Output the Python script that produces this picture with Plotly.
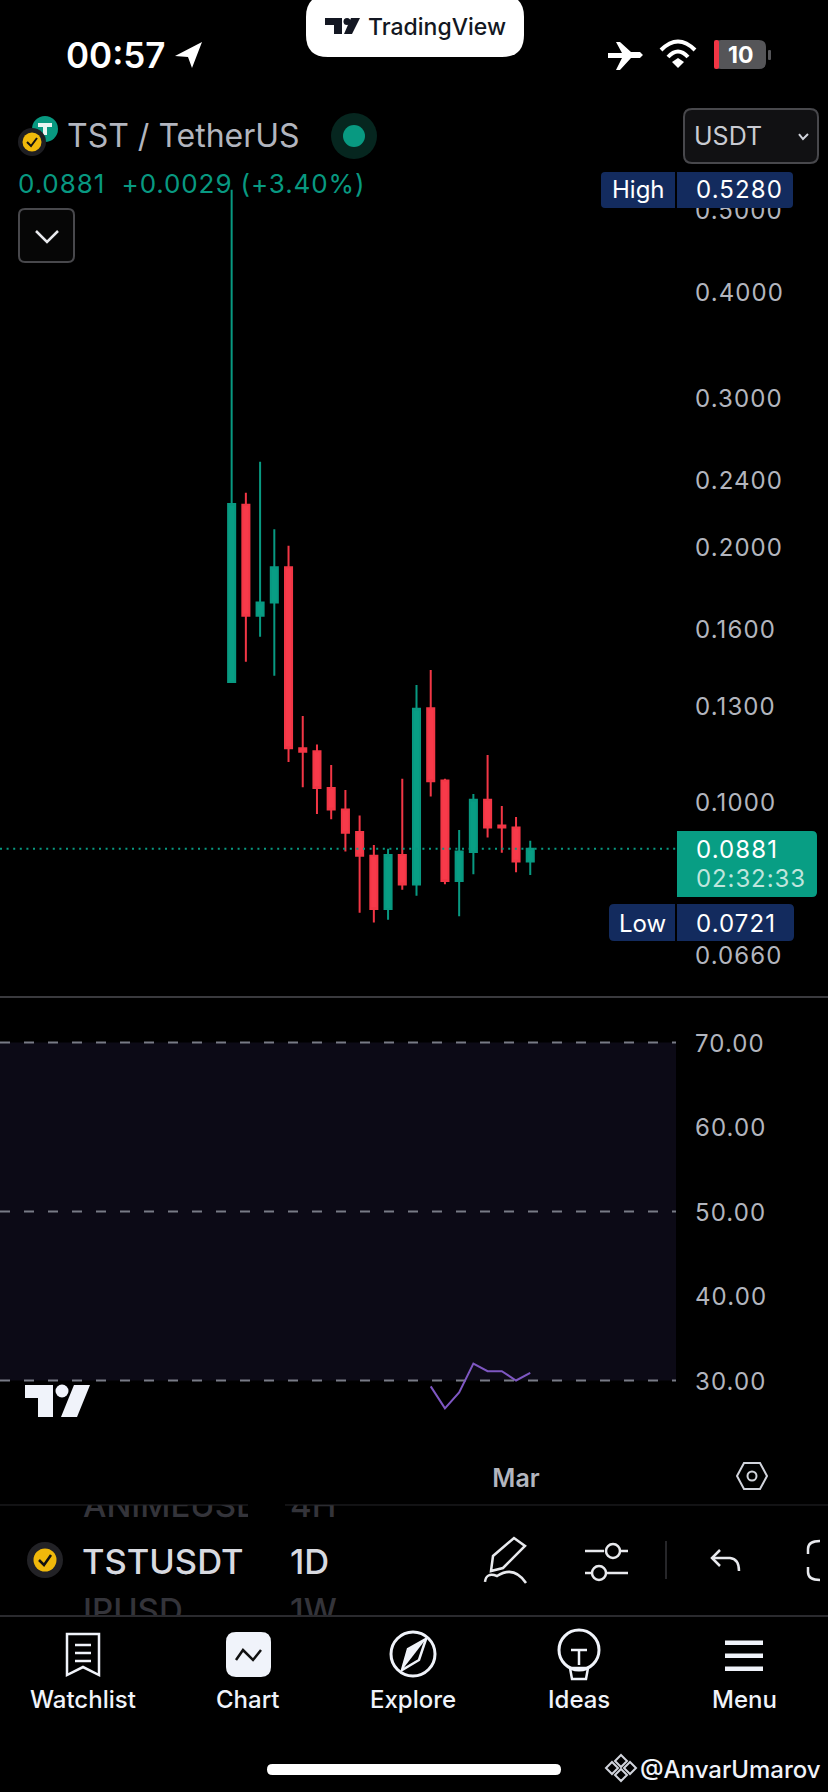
import plotly.graph_objects as go

W, H = 828, 1792
GREEN = "#089981"
RED = "#F23645"
NAVY = "#132B5E"
GREY = "#B2B5BE"
PANE_R = 676

dates = ["2025-02-09", "2025-02-10", "2025-02-11", "2025-02-12", "2025-02-13", "2025-02-14",
         "2025-02-15", "2025-02-16", "2025-02-17", "2025-02-18", "2025-02-19", "2025-02-20",
         "2025-02-21", "2025-02-22", "2025-02-23", "2025-02-24", "2025-02-25", "2025-02-26",
         "2025-02-27", "2025-02-28", "2025-03-01", "2025-03-02"]
opens = [.1386, .2243, .1659, .1720, .1893, .1157, .1148, .1039, .0980, .0922, .0864,
         .0748, .0866, .0799, .1290, .1060, .0807, .0873, .1006, .0938, .0933, .0851]
highs = [.5280, .2317, .2521, .2098, .2007, .1263, .1169, .1106, .1033, .0964, .0890,
         .0881, .1065, .1374, .1431, .1065, .0927, .1022, .1136, .0989, .0960, .0900]
lows = [.1386, .1464, .1567, .1409, .1115, .1041, .0968, .0954, .0874, .0740, .0721,
        .0726, .0788, .0775, .1015, .0800, .0733, .0822, .0908, .0871, .0826, .0820]
closes = [.2248, .1659, .1720, .1893, .1157, .1146, .1039, .0980, .0920, .0864, .0748,
          .0866, .0799, .1288, .1058, .0807, .0874, .1006, .0933, .0933, .0851, .0881]
last_price = 0.0881

price_ticks = [0.066, 0.1, 0.13, 0.16, 0.2, 0.24, 0.3, 0.4, 0.5]
price_labels = ["0.0660", "0.1000", "0.1300", "0.1600", "0.2000", "0.2400", "0.3000", "0.4000", "0.5000"]

rsi_dates = ["2025-02-23", "2025-02-24", "2025-02-25", "2025-02-26",
             "2025-02-27", "2025-02-28", "2025-03-01", "2025-03-02"]
rsi_values = [29.3, 26.7, 28.6, 32.0, 31.1, 31.1, 30.0, 30.9]
rsi_ticks = [30, 40, 50, 60, 70]
rsi_labels = ["30.00", "40.00", "50.00", "60.00", "70.00"]
rsi_levels = [30, 50, 70]

month_ticks = ["2025-03-01"]
month_labels = ["Mar"]


def fx(x):
    return x / W


def fy(y):
    return 1 - y / H


shapes = []
annotations = []


def path(cmds, fill=None, line=None, lw=0, layer="above"):
    parts = []
    for c in cmds:
        op = c[0]
        nums = c[1:]
        seg = op
        for i in range(0, len(nums), 2):
            seg += f"{fx(nums[i]):.5f},{fy(nums[i + 1]):.5f} "
        parts.append(seg)
    shapes.append(dict(type="path", xref="paper", yref="paper", path="".join(parts), layer=layer,
                       fillcolor=fill if fill else "rgba(0,0,0,0)",
                       line=dict(color=line if line else "rgba(0,0,0,0)", width=lw)))


def rrect(x0, y0, x1, y1, r=0, fill=None, line=None, lw=0, tl=True, tr=True, br=True, bl=True):
    a, b, c, d = r if tl else 0, r if tr else 0, r if br else 0, r if bl else 0
    path([("M", x0 + a, y0), ("L", x1 - b, y0), ("Q", x1, y0, x1, y0 + b), ("L", x1, y1 - c),
          ("Q", x1, y1, x1 - c, y1), ("L", x0 + d, y1), ("Q", x0, y1, x0, y1 - d),
          ("L", x0, y0 + a), ("Q", x0, y0, x0 + a, y0), ("Z",)], fill, line, lw)


def circle(cx, cy, r, fill=None, line=None, lw=0):
    shapes.append(dict(type="circle", xref="paper", yref="paper", layer="above",
                       x0=fx(cx - r), x1=fx(cx + r), y0=fy(cy + r), y1=fy(cy - r),
                       fillcolor=fill if fill else "rgba(0,0,0,0)",
                       line=dict(color=line if line else "rgba(0,0,0,0)", width=lw)))


def poly(pts, fill=None, line=None, lw=0, close=True):
    cmds = [("M", *pts[0])] + [("L", *p) for p in pts[1:]]
    if close:
        cmds.append(("Z",))
    path(cmds, fill, line, lw)


def text(x, y, s, size, color="#FFFFFF", anchor="left", family="Inter", weight=400, ls=0):
    if ls:
        s = f'<span style="letter-spacing:{ls}px">{s}</span>'
    annotations.append(dict(x=fx(x), y=fy(y), xref="paper", yref="paper", text=s, showarrow=False,
                            xanchor=anchor, yanchor="middle", borderpad=0,
                            font=dict(size=size, color=color, family=family, weight=weight)))


fig = go.Figure()
fig.add_trace(go.Candlestick(
    x=dates, open=opens, high=highs, low=lows, close=closes, xaxis="x", yaxis="y",
    increasing=dict(line=dict(color=GREEN, width=2), fillcolor="#089E84"),
    decreasing=dict(line=dict(color=RED, width=2), fillcolor="#F73A4A"),
    whiskerwidth=0, showlegend=False, hoverinfo="skip"))
fig.add_trace(go.Scatter(x=rsi_dates, y=rsi_values, mode="lines", xaxis="x2", yaxis="y2",
                         line=dict(color="#7E57C2", width=2), showlegend=False, hoverinfo="skip"))

# Hidden rows of the symbol picker, clipped by their own little subplot
fig.add_trace(go.Scatter(x=[83, 290], y=[1509, 1509], mode="text", text=["ANIMEUSDT", "4H"],
                         textposition="middle right", xaxis="x3", yaxis="y3", cliponaxis=True,
                         textfont=dict(size=33, color="#34343A", family="Inter", weight=500),
                         showlegend=False, hoverinfo="skip"))
fig.add_trace(go.Scatter(x=[83, 290], y=[1614, 1614], mode="text", text=["IPUSD", "1W"],
                         textposition="middle right", xaxis="x3", yaxis="y3", cliponaxis=True,
                         textfont=dict(size=33, color="#34343A", family="Inter", weight=500),
                         showlegend=False, hoverinfo="skip"))

# RSI band and levels
shapes.append(dict(type="rect", xref="paper", yref="y2", x0=0, x1=fx(PANE_R), y0=rsi_levels[0], y1=rsi_levels[2],
                   fillcolor="#0C0A16", line=dict(width=0), layer="below"))
for lvl in rsi_levels:
    shapes.append(dict(type="line", xref="paper", yref="y2", x0=0, x1=fx(PANE_R), y0=lvl, y1=lvl, layer="below",
                       line=dict(color="#787B86", width=2, dash="10px,14px")))
# Last-price line
shapes.append(dict(type="line", xref="paper", yref="y", x0=0, x1=fx(PANE_R), y0=last_price, y1=last_price,
                   layer="above", line=dict(color=GREEN, width=2, dash="2px,4.6px")))

# Pane separator
path([("M", 0, 997), ("L", W, 997)], None, "#3A3A3E", 2)

# TradingView pill
rrect(306, -5, 524, 57, 22, fill="#FFFFFF")
poly([(325, 18), (342, 18), (342, 34), (334, 34), (334, 25), (325, 25)], fill="#131722")
circle(347, 21.5, 3.5, fill="#131722")
poly([(351, 18), (360, 18), (352, 34), (344, 34)], fill="#131722")
text(367, 27, "TradingView", 23, "#131722", weight=500)

# Status bar
text(65, 55, "00:57", 35, "#FFFFFF", family="Inter", weight=600)
poly([(175, 56), (202, 42), (192, 68), (188, 57)], fill="#FFFFFF")
poly([(608, 53), (622, 53), (616, 42), (620, 42), (631, 52), (640, 52), (643, 55), (640, 58), (631, 58),
      (620, 70), (616, 70), (622, 58), (608, 58)], fill="#FFFFFF")
path([("M", 661, 50), ("Q", 678, 33, 695, 50)], None, "#FFFFFF", 4)
path([("M", 668, 57), ("Q", 678, 46, 688, 57)], None, "#FFFFFF", 4)
poly([(678, 68), (672, 62), (678, 58), (684, 62)], fill="#FFFFFF")
rrect(714, 40, 766, 69, 7, fill="#555558")
rrect(714, 40, 719, 69, 2, fill=RED)
rrect(768, 50, 771, 60, 1, fill="#555558")
text(740, 55, "10", 23, "#FFFFFF", anchor="center", weight=700)

# Symbol title
circle(45, 129, 13, fill=GREEN)
poly([(38, 123), (52, 123), (52, 127), (47, 127), (47, 135), (43, 135), (43, 127), (38, 127)], fill="#E8F5F2")
circle(32, 142, 14, fill="#1E1E22")
circle(32, 142, 9.5, fill="#F0B90B")
path([("M", 27, 142), ("L", 31, 146), ("L", 37, 138)], None, "#111111", 2)
text(66, 136, "TST / TetherUS", 32, GREY)
circle(354, 136, 23, fill="#06261F")
circle(354, 136, 11, fill=GREEN)
text(17, 184, "0.0881  +0.0029 (+3.40%)", 26, GREEN, ls=0.9)

# Currency selector
rrect(684, 109, 818, 163, 8, fill="#111113", line="#48484C", lw=2)
text(693, 136, "USDT", 25, "#C9CBD2")
path([("M", 799, 134), ("L", 803, 139), ("L", 808, 134)], None, "#D1D4DC", 2)

# Collapse button
rrect(19, 209, 74, 262, 6, fill="#060606", line="#48484C", lw=2)
path([("M", 36, 231), ("L", 47, 242), ("L", 58, 231)], None, "#E8E9ED", 2.5)

# High / Low / last price labels
rrect(601, 172, 793, 208, 4, fill=NAVY)
path([("M", 676, 172), ("L", 676, 208)], None, "#000000", 2)
text(638, 189, "High", 24, "#FFFFFF", anchor="center")
text(695, 190, "0.5280", 24, "#FFFFFF", ls=1.1)

rrect(677, 831, 817, 897, 5, fill="#089E84", bl=False, tl=False)
text(695, 849, "0.0881", 24, "#FFFFFF", ls=1.1)
text(695, 878, "02:32:33", 24, "#BFE5DD", ls=0.9)

rrect(609, 904, 794, 941, 5, fill=NAVY)
path([("M", 676, 904), ("L", 676, 941)], None, "#000000", 2)
text(642, 923, "Low", 24, "#FFFFFF", anchor="center")
text(695, 923, "0.0721", 24, "#FFFFFF", ls=1.1)

# TradingView watermark
poly([(25, 1385), (53, 1385), (53, 1417), (38, 1417), (38, 1398), (25, 1398)], fill="#F0F3FA")
circle(62, 1391, 6.5, fill="#F0F3FA")
poly([(74, 1385), (90, 1385), (77, 1417), (61, 1417)], fill="#F0F3FA")

# Hexagon settings icon
poly([(737, 1476), (744, 1463), (760, 1463), (767, 1476), (760, 1489), (744, 1489)], None, "#D1D4DC", 2)
circle(752, 1476, 4.5, None, "#D1D4DC", 2)

# Bottom toolbar
path([("M", 0, 1505), ("L", W, 1505)], None, "#26262A", 1)
rrect(248, 1500, 285, 1525, 0, fill="#000000")
circle(45, 1560, 18, fill="#222226")
circle(45, 1560, 11.5, fill="#F0B90B")
path([("M", 39, 1560), ("L", 44, 1565), ("L", 51, 1555)], None, "#111111", 2.5)
text(81, 1561, "TSTUSDT", 34.5, "#D8DAE0", weight=500)
text(289, 1561, "1D", 34.5, "#D8DAE0", weight=500)
path([("M", 491, 1571), ("L", 493, 1556), ("L", 514, 1538), ("L", 525, 1546), ("L", 503, 1568), ("Z",)],
     None, "#E8E9ED", 2.5)
path([("M", 485, 1582), ("Q", 486, 1572, 497, 1576), ("Q", 514, 1565, 526, 1583)], None, "#E8E9ED", 2.5)
path([("M", 585, 1551), ("L", 604, 1551)], None, "#E8E9ED", 2.5)
circle(613, 1551, 7, None, "#E8E9ED", 2.5)
path([("M", 620, 1551), ("L", 628, 1551)], None, "#E8E9ED", 2.5)
path([("M", 585, 1573), ("L", 592, 1573)], None, "#E8E9ED", 2.5)
circle(599, 1573, 7, None, "#E8E9ED", 2.5)
path([("M", 606, 1573), ("L", 628, 1573)], None, "#E8E9ED", 2.5)
path([("M", 666, 1541), ("L", 666, 1579)], None, "#333337", 1.5)
path([("M", 720, 1550), ("L", 712, 1558), ("L", 720, 1566)], None, "#E8E9ED", 2.5)
path([("M", 712, 1558), ("L", 730, 1558), ("Q", 739, 1559, 739, 1571)], None, "#E8E9ED", 2.5)
path([("M", 820, 1541), ("Q", 808, 1541, 808, 1549), ("L", 808, 1554)], None, "#E8E9ED", 2.5)
path([("M", 820, 1580), ("Q", 808, 1580, 808, 1572), ("L", 808, 1567)], None, "#E8E9ED", 2.5)
path([("M", 0, 1616), ("L", W, 1616)], None, "#2A2A2E", 2)

# Tab bar
path([("M", 67, 1634), ("L", 99, 1634), ("L", 99, 1675), ("L", 83, 1667), ("L", 67, 1675), ("Z",)],
     None, "#F0F3FA", 2.5)
for ly in (1645, 1653, 1661):
    path([("M", 75, ly), ("L", 91, ly)], None, "#F0F3FA", 2.5)
rrect(226, 1632, 271, 1677, 10, fill="#F0F3FA")
path([("M", 236, 1660), ("L", 243, 1650), ("L", 253, 1660), ("L", 261, 1650)], None, "#111111", 2.5)
circle(413, 1654, 22, None, "#F0F3FA", 3)
poly([(426, 1639), (419, 1660), (402, 1670), (408, 1649)], None, "#F0F3FA", 2.5)
poly([(426, 1639), (408, 1649), (402, 1670)], fill="#F0F3FA")
circle(579, 1650, 20, None, "#F0F3FA", 3)
path([("M", 571, 1650), ("L", 587, 1650), ("M", 579, 1650), ("L", 579, 1665)], None, "#F0F3FA", 2.5)
path([("M", 570, 1668), ("L", 588, 1668), ("L", 586, 1679), ("L", 572, 1679), ("Z",)], None, "#F0F3FA", 2.5)
for by in (1640.5, 1653.5, 1666.5):
    rrect(725, by, 763, by + 4.5, 0, fill="#F0F3FA")
for cx, label in [(83, "Watchlist"), (248, "Chart"), (413, "Explore"), (579, "Ideas"), (744, "Menu")]:
    text(cx, 1699, label, 24, "#F0F3FA", anchor="center", weight=500)

# Home indicator and signature
rrect(267, 1764, 561, 1775, 5.5, fill="#FFFFFF")
poly([(621, 1755), (627, 1761), (621, 1767), (615, 1761)], None, "#D1D4DC", 2)
poly([(621, 1769), (627, 1775), (621, 1781), (615, 1775)], None, "#D1D4DC", 2)
poly([(612, 1762), (618, 1768), (612, 1774), (606, 1768)], None, "#D1D4DC", 2)
poly([(630, 1762), (636, 1768), (630, 1774), (624, 1768)], None, "#D1D4DC", 2)
text(639, 1769, "@AnvarUmarov", 24, "#F0F3FA", weight=500)

fig.update_layout(
    width=W, height=H, margin=dict(l=0, r=0, t=0, b=0), autosize=False,
    paper_bgcolor="#000000", plot_bgcolor="rgba(0,0,0,0)", showlegend=False, boxgap=0.29,
    font=dict(family="Inter", color=GREY),
    shapes=shapes, annotations=annotations,
    xaxis=dict(domain=[0, fx(PANE_R)], range=["2025-01-23 17:00", "2025-03-12 06:00"], anchor="y",
               rangeslider=dict(visible=False), showgrid=False, zeroline=False, showticklabels=False,
               ticks="", showline=False),
    yaxis=dict(domain=[fy(996), fy(0)], type="log", range=[-1.2289, -0.0536], anchor="x", side="right",
               tickmode="array", tickvals=price_ticks, ticktext=price_labels, showgrid=False, zeroline=False,
               ticks="", showline=False, ticklabelstandoff=18, ticklabelshift=1,
               tickfont=dict(size=24, color=GREY, family="Inter")),
    xaxis2=dict(domain=[0, fx(PANE_R)], range=["2025-01-23 17:00", "2025-03-12 06:00"], anchor="y2",
                tickmode="array", tickvals=month_ticks, ticktext=month_labels, showgrid=False, zeroline=False,
                ticks="", showline=False, ticklabelstandoff=14,
                tickfont=dict(size=25, color="#B2B5BE", family="Inter", weight=600)),
    yaxis2=dict(domain=[fy(1447), fy(997)], range=[22.13, 75.38], anchor="x2", side="right",
                tickmode="array", tickvals=rsi_ticks, ticktext=rsi_labels, showgrid=False, zeroline=False,
                ticks="", showline=False, ticklabelstandoff=18, ticklabelshift=1,
                tickfont=dict(size=24, color=GREY, family="Inter")),
    xaxis3=dict(domain=[0, 1], range=[0, W], anchor="y3", visible=False),
    yaxis3=dict(domain=[fy(1616), fy(1505)], range=[1616, 1505], anchor="x3", visible=False),
)

fig.write_html("out.html", config=dict(displayModeBar=False),
               post_script="document.body.style.margin='0';document.body.style.background='#000';"
                           "document.documentElement.style.overflow='hidden';"
                           "var s=document.createElement('style');"
                           "s.textContent='.yaxislayer-above text{letter-spacing:1.1px}';"
                           "document.head.appendChild(s);")
